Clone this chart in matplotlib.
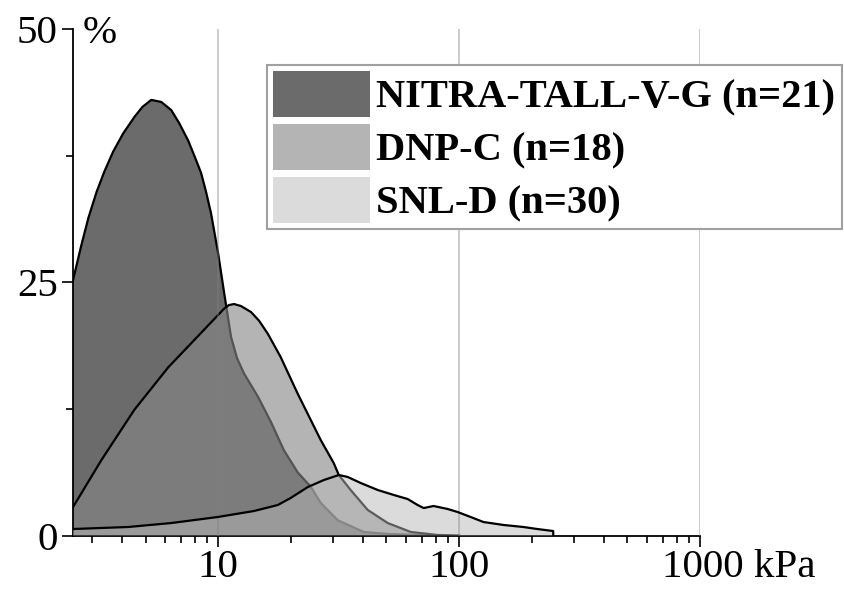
import matplotlib
matplotlib.use("Agg")
import matplotlib.pyplot as plt
import matplotlib.transforms as mtransforms
from matplotlib.ticker import FixedLocator, NullFormatter

# values (x in kPa, y in %)
nitra_x = [2.5, 2.71, 2.9, 3.13, 3.37, 3.67, 4.04, 4.49, 4.85, 5.28, 5.81, 6.39,
           6.9, 7.51, 8.03, 8.5, 8.92, 9.35, 10.0, 10.59, 11.32, 11.99, 12.81,
           14.64, 16.58, 18.77, 21.45, 24.28, 26.71, 31.4, 40.23, 50.57, 80]
nitra_y = [25.2, 28.7, 31.4, 33.9, 35.9, 37.9, 39.7, 41.3, 42.3, 43.0, 42.8, 42.0,
           40.7, 39.0, 37.3, 35.8, 33.9, 31.8, 27.9, 24.0, 19.6, 17.5, 16.0,
           13.7, 11.2, 8.4, 6.2, 4.8, 3.2, 1.5, 0.35, 0.15, 0.0]

dnp_x = [2.5, 3.28, 4.49, 6.21, 8.5, 10.6, 11.1, 11.65, 12.45, 13.7, 14.8, 16.1,
         18.2, 21.4, 26.7, 30.2, 31.7, 35.5, 41.8, 50.6, 63.0, 81.5, 100]
dnp_y = [2.8, 7.45, 12.4, 16.6, 20.0, 22.4, 22.75, 22.85, 22.65, 22.06, 21.2, 19.9,
         17.6, 14.0, 9.4, 7.15, 5.97, 4.49, 2.52, 1.23, 0.35, 0.05, 0.0]

snl_x = [2.5, 4.24, 6.39, 10, 14.1, 17.7, 20.0, 23.6, 27.5, 31.7, 34.5, 39.1, 46.0,
         53.6, 61.2, 67.3, 71.3, 78.4, 89.6, 98.6, 111.6, 126.3, 152.8, 184.8, 211.3, 246, 246]
snl_y = [0.64, 0.84, 1.23, 1.83, 2.42, 3.01, 3.70, 4.79, 5.48, 5.97, 5.78, 5.18, 4.49,
         4.0, 3.6, 3.01, 2.71, 2.91, 2.62, 2.32, 1.83, 1.33, 1.04, 0.84, 0.64, 0.44, 0.0]

labels = ["NITRA-TALL-V-G (n=21)", "DNP-C (n=18)", "SNL-D (n=30)"]
colors = ["#6b6b6b", "#878787", "#b8b8b8"]
alphas = [1.0, 0.62, 0.5]

plt.rcParams['font.family'] = ['Liberation Serif', 'DejaVu Serif']

fig = plt.figure(figsize=(8.45, 5.94), dpi=100)
ax = fig.add_axes([73 / 845, 58.5 / 594, 627 / 845, 506.5 / 594])

series = [(nitra_x, nitra_y), (dnp_x, dnp_y), (snl_x, snl_y)]
for i, ((xs, ys), lab, c, a) in enumerate(zip(series, labels, colors, alphas)):
    ax.fill_between(xs, ys, 0, facecolor=c, alpha=a, edgecolor='none',
                    label=lab, zorder=1 + i)
    ax.plot(xs, ys, color='black', lw=1.6, zorder=1.1 + i)

# vertical grid at the decades
for gx in [10, 100, 1000]:
    ax.axvline(gx, color='#808080', alpha=0.43, lw=1.3, zorder=3.05)

ax.set_xscale('log')
ax.set_xlim(2.5, 1000)
ax.set_ylim(0, 50)

ax.xaxis.set_major_locator(FixedLocator([10, 100, 1000]))
ax.xaxis.set_minor_locator(FixedLocator([3, 4, 5, 6, 7, 8, 9,
                                         20, 30, 40, 50, 60, 70, 80, 90,
                                         200, 300, 400, 500, 600, 700, 800, 900]))
ax.xaxis.set_minor_formatter(NullFormatter())
ax.set_xticklabels(['10', '100', '1000 kPa'])
ax.set_yticks([0, 25, 50])
ax.set_yticks([12.5, 37.5], minor=True)

ax.tick_params(which='major', length=8, width=1.2, labelsize=29.5, direction='out')
ax.tick_params(which='minor', length=5, width=1.2)
ax.tick_params(axis='x', pad=2)
ax.tick_params(axis='y', pad=3)

for s in ['top', 'right']:
    ax.spines[s].set_visible(False)
for s in ['left', 'bottom']:
    ax.spines[s].set_linewidth(1.3)

# keep "1000" centred on its tick, let " kPa" hang to the right
lab1000 = ax.get_xticklabels()[-1]
lab1000.set_transform(lab1000.get_transform() +
                      mtransforms.ScaledTranslation(0.39, 0, fig.dpi_scale_trans))

ax.text(0.016, 50, '%', fontsize=29.5, ha='left', va='center_baseline',
        transform=mtransforms.blended_transform_factory(ax.transAxes, ax.transData))

leg = ax.legend(loc='upper left', bbox_to_anchor=(267 / 845, 1 - 65 / 594),
                bbox_transform=fig.transFigure,
                prop=dict(family='Liberation Serif', weight='bold', size=29.2),
                frameon=True, fancybox=False, edgecolor='#a0a0a0', framealpha=1,
                borderpad=0.15, labelspacing=0.17, handlelength=2.38,
                handleheight=1.37, handletextpad=0.17, borderaxespad=0)
leg.get_frame().set_linewidth(1.5)
leg.set_zorder(10)

fig.savefig('out.png', dpi=100)
